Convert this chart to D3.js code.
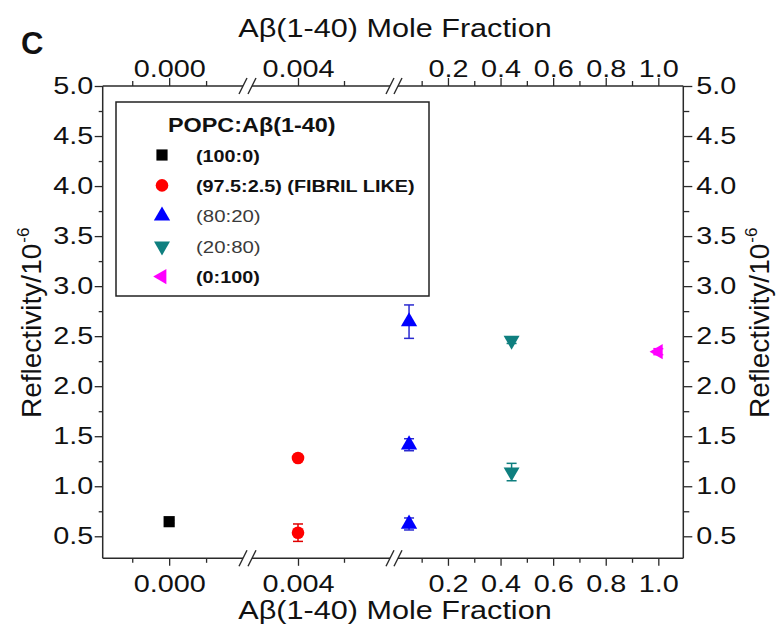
<!DOCTYPE html>
<html>
<head>
<meta charset="utf-8">
<script src="https://cdn.jsdelivr.net/npm/d3@7"></script>
<style>
  html, body { margin: 0; padding: 0; background: #fff; }
  svg { display: block; }
</style>
</head>
<body>
<svg id="chart" width="777" height="625"></svg>
<script>
// ---------------- DATA ----------------
const seriesNames = ["(100:0)", "(97.5:2.5) (FIBRIL LIKE)", "(80:20)", "(20:80)", "(0:100)"];
const legendTitle = "POPC:A\u03B2(1-40)";
const xAxisTitle = "A\u03B2(1-40) Mole Fraction";
const yAxisTitle = "Reflectivity/10";
const yAxisTitleSup = "-6";
const panelLabel = "C";

// x positions (mole fraction) of each series
const seriesX = [0.000, 0.004, 0.052, 0.442, 1.000];
// reflectivity values and error half-widths per series
const blackY = [0.646],               blackErr = [0.015];
const redY = [1.282, 0.536],          redErr = [0.02, 0.087];
const blueY = [2.645, 1.415, 0.623],  blueErr = [0.167, 0.06, 0.06];
const tealY = [2.457, 1.142],         tealErr = [0.03, 0.087];
const magentaY = [2.345],             magentaErr = [0.03];

// broken x axis: three segments
const seg1Domain = [-0.0009, 0.001];
const seg2Domain = [0.0035, 0.005];
const seg3Domain = [0.01, 1.095];
const seg1Major = [0.000], seg1Minor = [-0.0005, 0.0005];
const seg2Major = [0.004], seg2Minor = [0.0045];
const seg3Major = [0.2, 0.4, 0.6, 0.8, 1.0], seg3Minor = [0.1, 0.3, 0.5, 0.7, 0.9];
const seg1Labels = ["0.000"], seg2Labels = ["0.004"], seg3Labels = ["0.2", "0.4", "0.6", "0.8", "1.0"];

const yDomain = [0.28, 5.0];
const yMajor = [0.5, 1.0, 1.5, 2.0, 2.5, 3.0, 3.5, 4.0, 4.5, 5.0];
const yMinor = [0.75, 1.25, 1.75, 2.25, 2.75, 3.25, 3.75, 4.25, 4.75];
const yLabels = ["0.5", "1.0", "1.5", "2.0", "2.5", "3.0", "3.5", "4.0", "4.5", "5.0"];

// ---------------- LAYOUT / STYLE ----------------
const plot = { left: 102.7, right: 683.3, top: 86, bottom: 558.3 };
const segPx = [[102.7, 243], [252, 390], [398, 683.3]];
const FONT = "'Liberation Sans', Arial, Helvetica, sans-serif";
const SX = 1.2; // horizontal stretch of text
const axisColor = "#2a2a2a";
const textColor = "#111";
const colors = ["#000000", "#ff0000", "#0000ff", "#0f7f7f", "#ff00ff"];
const errColors = ["#000000", "#e00000", "#2a2ad0", "#0f7f7f", "#ff00ff"];
const symbolTypes = [d3.symbolSquare, d3.symbolCircle, d3.symbolTriangle, d3.symbolTriangle, d3.symbolTriangle];
const symbolSizes = [125, 125, 115, 110, 100];
const symbolRot = [0, 0, 0, 180, -90];
const legendBold = [true, true, false, false, true];

const svg = d3.select("#chart");

// scales
const xSeg = [
  d3.scaleLinear().domain(seg1Domain).range(segPx[0]),
  d3.scaleLinear().domain(seg2Domain).range(segPx[1]),
  d3.scaleLinear().domain(seg3Domain).range(segPx[2])
];
function xPos(v) {
  if (v <= seg1Domain[1]) return xSeg[0](v);
  if (v <= seg2Domain[1]) return xSeg[1](v);
  return xSeg[2](v);
}
const y = d3.scaleLinear().domain(yDomain).range([plot.bottom, plot.top]);

// ---------- axes ----------
const segMajors = [seg1Major, seg2Major, seg3Major];
const segMinors = [seg1Minor, seg2Minor, seg3Minor];
const segLabels = [seg1Labels, seg2Labels, seg3Labels];

function styleAxis(g) {
  g.select(".domain").remove();
  g.selectAll("line").attr("stroke", axisColor).attr("stroke-width", 1.3);
  g.selectAll("text").attr("font-family", FONT).attr("font-size", 24).attr("fill", textColor);
}

xSeg.forEach((sc, i) => {
  const labels = segLabels[i];
  const fmt = (d) => labels[segMajors[i].indexOf(d)];
  // bottom
  svg.append("g").attr("transform", `translate(0,${plot.bottom})`)
    .call(d3.axisBottom(sc).tickValues(segMinors[i]).tickSize(4.5).tickFormat(""))
    .call(styleAxis);
  const gb = svg.append("g").attr("transform", `translate(0,${plot.bottom})`)
    .call(d3.axisBottom(sc).tickValues(segMajors[i]).tickSize(7.5).tickPadding(9).tickFormat(fmt))
    .call(styleAxis);
  gb.selectAll("text").attr("transform", `scale(${SX},1)`);
  // top
  svg.append("g").attr("transform", `translate(0,${plot.top})`)
    .call(d3.axisTop(sc).tickValues(segMinors[i]).tickSize(5).tickFormat(""))
    .call(styleAxis);
  const gt = svg.append("g").attr("transform", `translate(0,${plot.top})`)
    .call(d3.axisTop(sc).tickValues(segMajors[i]).tickSize(8).tickPadding(1).tickFormat(fmt))
    .call(styleAxis);
  gt.selectAll("text").attr("transform", `scale(${SX},1)`);
  // axis lines for segment
  [plot.bottom, plot.top].forEach(yy => {
    svg.append("line").attr("x1", sc.range()[0]).attr("x2", sc.range()[1])
      .attr("y1", yy).attr("y2", yy).attr("stroke", axisColor).attr("stroke-width", 1.5);
  });
});

// break marks
[[segPx[0][1], segPx[1][0]], [segPx[1][1], segPx[2][0]]].forEach(pair => {
  pair.forEach(cx => {
    [plot.bottom, plot.top].forEach(yy => {
      svg.append("line").attr("x1", cx - 4).attr("y1", yy + 8).attr("x2", cx + 4).attr("y2", yy - 8)
        .attr("stroke", axisColor).attr("stroke-width", 1.4);
    });
  });
});

// y axes
const yFmt = (d) => yLabels[yMajor.indexOf(d)];
svg.append("g").attr("transform", `translate(${plot.left},0)`)
  .call(d3.axisLeft(y).tickValues(yMinor).tickSize(4).tickFormat("")).call(styleAxis);
const gl = svg.append("g").attr("transform", `translate(${plot.left},0)`)
  .call(d3.axisLeft(y).tickValues(yMajor).tickSize(8).tickPadding(1.5).tickFormat(yFmt)).call(styleAxis);
gl.selectAll("text").attr("x", -9.5 / SX).attr("transform", `scale(${SX},1)`);
svg.append("g").attr("transform", `translate(${plot.right},0)`)
  .call(d3.axisRight(y).tickValues(yMinor).tickSize(6).tickFormat("")).call(styleAxis);
const gr = svg.append("g").attr("transform", `translate(${plot.right},0)`)
  .call(d3.axisRight(y).tickValues(yMajor).tickSize(9).tickPadding(4).tickFormat(yFmt)).call(styleAxis);
gr.selectAll("text").attr("x", 13 / SX).attr("transform", `scale(${SX},1)`);
[plot.left, plot.right].forEach(xx => {
  svg.append("line").attr("x1", xx).attr("x2", xx).attr("y1", plot.top).attr("y2", plot.bottom)
    .attr("stroke", axisColor).attr("stroke-width", 1.5);
});

// ---------- titles ----------
function stext(x, yy, str, size, opts = {}) {
  return svg.append("text")
    .attr("transform", `translate(${x},${yy}) scale(${opts.sx || SX},1)`)
    .attr("font-family", FONT).attr("font-size", size)
    .attr("font-weight", opts.bold ? "bold" : "normal")
    .attr("fill", opts.fill || textColor)
    .attr("text-anchor", opts.anchor || "start")
    .text(str);
}
stext(395, 37, xAxisTitle, 25.5, { anchor: "middle", sx: 1.2 });
stext(395, 619, xAxisTitle, 25.5, { anchor: "middle", sx: 1.2 });
stext(21, 54, panelLabel, 31, { bold: true, sx: 1.0 });

function yTitle(x) {
  const t = svg.append("text")
    .attr("transform", `translate(${x},418) rotate(-90)`)
    .attr("font-family", FONT).attr("font-size", 28).attr("fill", textColor);
  t.append("tspan").text(yAxisTitle);
  t.append("tspan").attr("font-size", 17).attr("dy", -12).attr("dx", 1).text(yAxisTitleSup);
}
yTitle(41);
yTitle(769);

// ---------- data ----------
const allY = [blackY, redY, blueY, tealY, magentaY];
const allErr = [blackErr, redErr, blueErr, tealErr, magentaErr];
allY.forEach((vals, si) => {
  const g = svg.append("g");
  const pts = vals.map((v, k) => ({ x: seriesX[si], y: v, e: allErr[si][k] }));
  // error bars
  pts.forEach(p => {
    const cx = xPos(p.x), y1 = y(p.y + p.e), y2 = y(p.y - p.e);
    g.append("line").attr("x1", cx).attr("x2", cx).attr("y1", y1).attr("y2", y2)
      .attr("stroke", errColors[si]).attr("stroke-width", 1.5);
    [y1, y2].forEach(yy => g.append("line").attr("x1", cx - 5).attr("x2", cx + 5)
      .attr("y1", yy).attr("y2", yy).attr("stroke", errColors[si]).attr("stroke-width", 1.5));
  });
  g.selectAll("path.pt").data(pts).join("path")
    .attr("class", "pt")
    .attr("d", d3.symbol().type(symbolTypes[si]).size(symbolSizes[si]))
    .attr("transform", d => `translate(${xPos(d.x)},${y(d.y)}) rotate(${symbolRot[si]})`)
    .attr("fill", colors[si]);
});

// ---------- legend ----------
const lg = { x: 116, y: 102, w: 313, h: 194, symX: 162, textX: 196, row0: 155, rowH: 30.4 };
svg.append("rect").attr("x", lg.x).attr("y", lg.y).attr("width", lg.w).attr("height", lg.h)
  .attr("fill", "#fff").attr("stroke", "#222").attr("stroke-width", 1.5);
stext(168, 132, legendTitle, 19.5, { bold: true });
seriesNames.forEach((name, i) => {
  const cy = lg.row0 + i * lg.rowH;
  svg.append("path")
    .attr("d", d3.symbol().type(symbolTypes[i]).size(symbolSizes[i])())
    .attr("transform", `translate(${lg.symX},${cy}) rotate(${symbolRot[i]})`)
    .attr("fill", colors[i]);
  stext(lg.textX, cy + 6.5, name, legendBold[i] ? 16.5 : 17, { bold: legendBold[i], fill: legendBold[i] ? "#111" : "#3a3a3a" });
});
</script>
</body>
</html>
